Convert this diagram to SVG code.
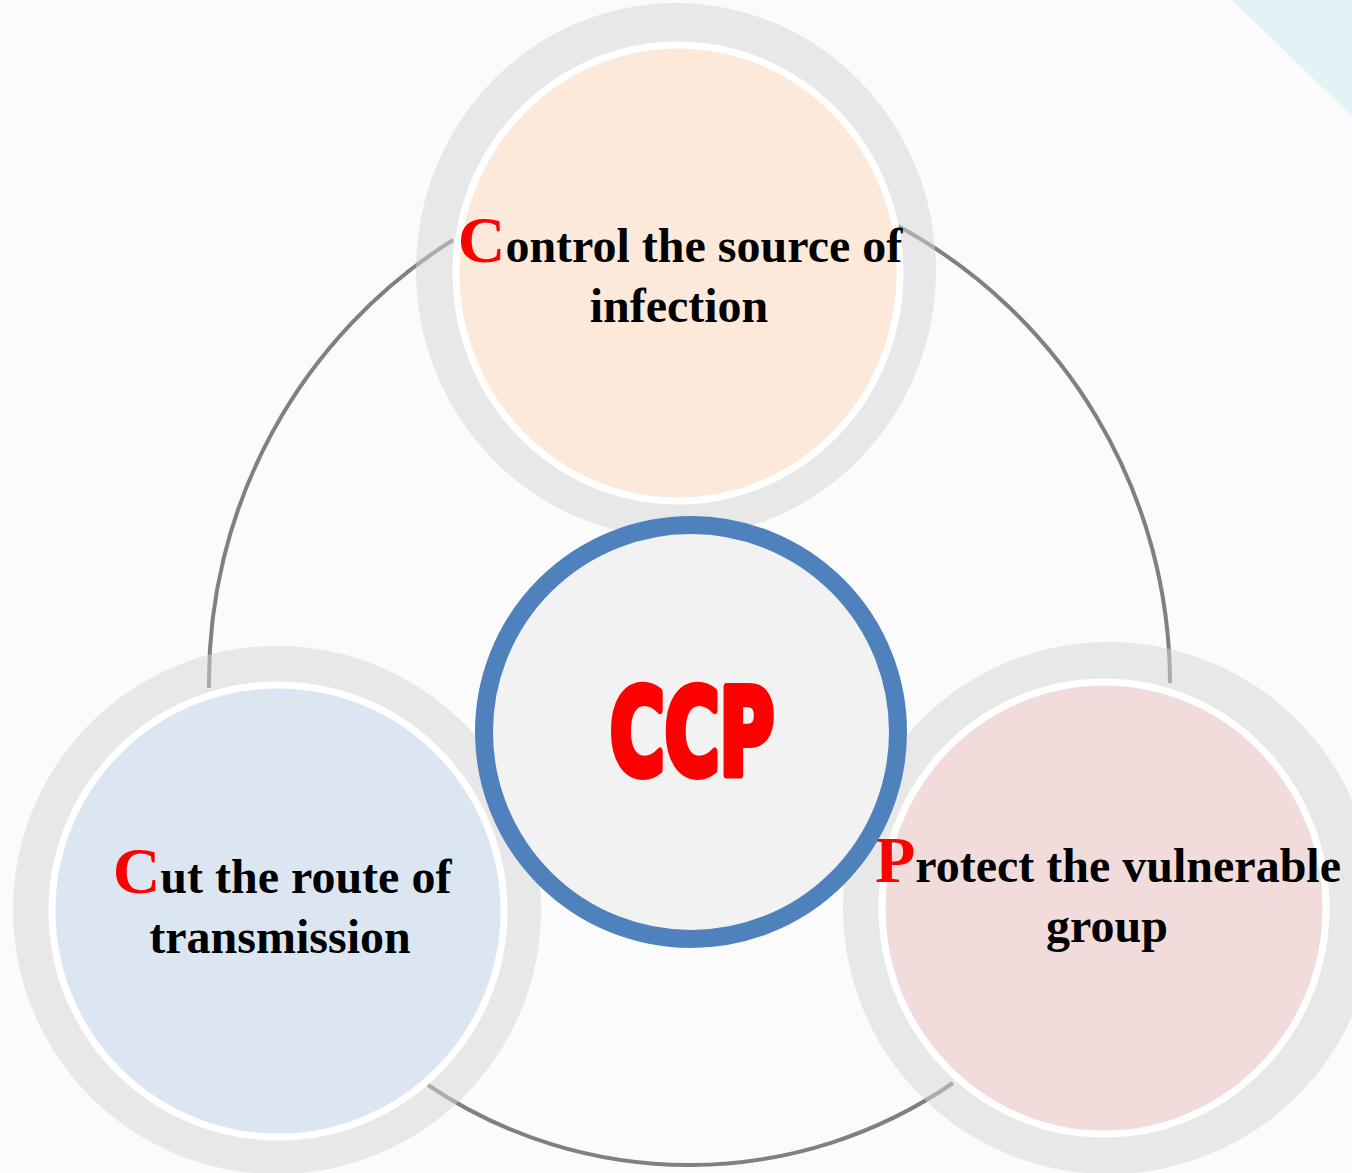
<svg xmlns="http://www.w3.org/2000/svg" width="1352" height="1173" viewBox="0 0 1352 1173">
  <style>
    .arc { fill: none; stroke: #808080; stroke-width: 4; }
    .halo { fill: #d6d6d6; fill-opacity: 0.5; }
    .disc { stroke: #ffffff; stroke-width: 7; }
    .label { font-family: "Liberation Serif", "Times New Roman", serif; font-weight: bold; font-size: 48px; fill: #000000; text-anchor: middle; }
    .initial { fill: #ff0000; font-size: 66px; }
    .core { font-family: Impact, "Liberation Sans Narrow", "DejaVu Sans Condensed", "Liberation Sans", sans-serif; font-weight: bold; font-size: 120px; fill: #ff0000; stroke: #ff0000; stroke-width: 8; stroke-linejoin: round; text-anchor: middle; }
  </style>

  <!-- page background and corner accent -->
  <rect x="0" y="0" width="1352" height="1173" fill="#fbfbfb"/>
  <polygon points="1232,0 1352,0 1352,116" fill="#e4f1f7"/>

  <!-- arcs linking the three outer circles -->
  <g id="connectors">
    <path class="arc" d="M453,240 A521,521 0 0 0 209,688"/>
    <path class="arc" d="M898,226 A521,521 0 0 1 1170,683"/>
    <path class="arc" d="M428,1085 A466,466 0 0 0 953,1083"/>
  </g>

  <g id="node-control">
    <ellipse class="halo" cx="676" cy="270" rx="260" ry="267"/>
    <ellipse class="disc" cx="678" cy="273" rx="222" ry="228" fill="#fde9d9"/>
    <text class="label" x="680" y="262"><tspan class="initial">C</tspan>ontrol the source of</text>
    <text class="label" x="679" y="322">infection</text>
  </g>

  <g id="node-cut">
    <circle class="halo" cx="277" cy="910" r="264"/>
    <ellipse class="disc" cx="278" cy="911" rx="226" ry="226" fill="#dce6f2"/>
    <text class="label" x="282" y="893"><tspan class="initial">C</tspan>ut the route of</text>
    <text class="label" x="280" y="953">transmission</text>
  </g>

  <g id="node-protect">
    <circle class="halo" cx="1109" cy="908" r="266"/>
    <ellipse class="disc" cx="1104" cy="908" rx="222" ry="226" fill="#f2dcdb"/>
    <text class="label" x="1108" y="882"><tspan class="initial">P</tspan>rotect the vulnerable</text>
    <text class="label" x="1107" y="942">group</text>
  </g>

  <g id="node-ccp">
    <circle cx="691" cy="732" r="207" fill="#f2f2f2" stroke="#4f81bd" stroke-width="18"/>
    <text class="core" x="692" y="774" textLength="164" lengthAdjust="spacingAndGlyphs">CCP</text>
  </g>
</svg>
